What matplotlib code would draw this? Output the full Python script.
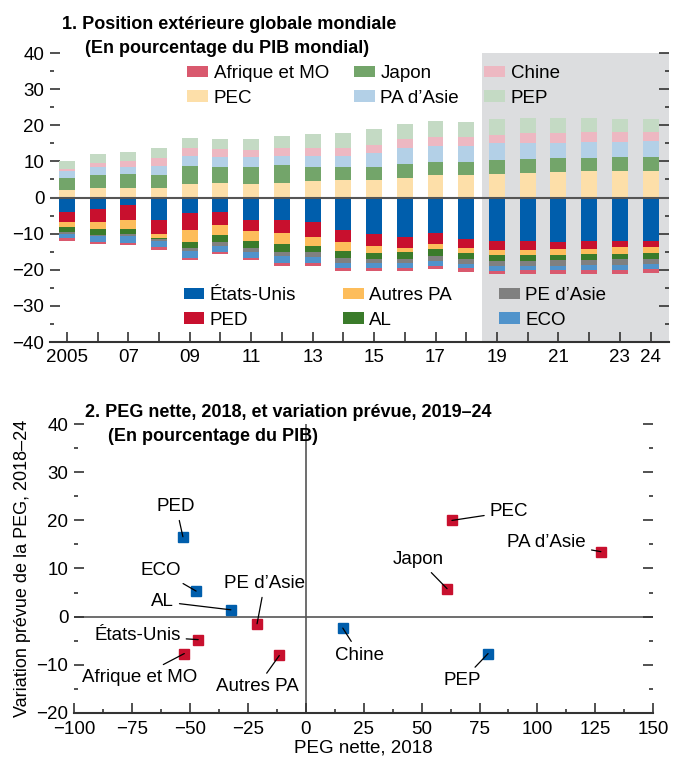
import numpy as np
import matplotlib.pyplot as plt

plt.rcParams['font.family'] = ['Liberation Sans', 'DejaVu Sans']

years = np.arange(2005, 2025)

# positive side of the global position (% of world GDP)
pec = [2.0, 2.6, 2.6, 2.6, 3.7, 4.0, 3.7, 4.0, 4.5, 4.8, 4.8, 5.3, 6.2, 6.2, 6.4, 6.7, 7.0, 7.3, 7.3, 7.3]
japon = [3.3, 3.6, 3.8, 3.6, 4.9, 4.4, 4.7, 4.9, 3.9, 3.6, 3.6, 3.9, 3.5, 3.5, 3.9, 3.9, 3.9, 3.6, 3.8, 3.8]
pa_asie = [2.1, 2.2, 2.0, 2.4, 2.8, 2.8, 2.8, 2.5, 3.0, 3.0, 3.9, 4.4, 4.5, 4.5, 4.7, 4.6, 4.3, 4.6, 4.4, 4.6]
chine = [0.5, 1.2, 1.6, 2.3, 2.2, 2.2, 1.9, 2.2, 2.2, 2.2, 2.2, 2.5, 2.6, 2.6, 2.4, 2.7, 2.7, 2.7, 2.7, 2.5]
pep = [2.1, 2.4, 2.5, 2.7, 2.8, 2.7, 3.0, 3.5, 4.0, 4.3, 4.5, 4.2, 4.3, 4.1, 4.4, 4.1, 4.1, 3.8, 3.6, 3.6]

# negative side
etats_unis = [-3.9, -3.3, -2.2, -6.3, -4.4, -3.9, -6.1, -6.1, -6.9, -8.9, -10.0, -10.8, -9.7, -11.4, -11.9, -11.9, -12.2, -11.9, -11.9, -11.9]
ped = [-2.8, -3.6, -3.9, -3.7, -4.5, -3.6, -3.3, -3.6, -3.9, -3.3, -3.3, -3.1, -3.1, -2.5, -2.5, -2.5, -2.0, -2.3, -1.7, -1.7]
autres_pa = [-1.4, -1.9, -2.5, -1.3, -3.3, -2.8, -2.5, -3.1, -2.5, -2.5, -2.0, -1.1, -1.4, -1.4, -1.4, -1.4, -1.6, -1.3, -1.9, -1.7]
al = [-1.5, -1.5, -1.6, -0.3, -1.7, -1.9, -2.0, -2.2, -1.7, -2.0, -1.6, -1.9, -1.9, -1.6, -1.7, -1.7, -1.4, -1.7, -1.4, -1.6]
pe_asie = [-0.6, -0.4, -0.5, -0.5, -0.8, -1.1, -1.1, -1.1, -1.4, -1.4, -1.2, -1.2, -1.4, -1.4, -1.4, -1.4, -1.7, -1.4, -1.7, -1.4]
eco = [-1.1, -1.7, -2.0, -1.7, -2.0, -1.9, -1.7, -2.0, -1.7, -1.3, -1.3, -1.3, -1.4, -1.1, -1.4, -1.1, -1.1, -1.4, -1.4, -1.4]
afrique_mo = [-0.6, -0.6, -0.5, -0.6, -0.5, -0.5, -0.5, -0.8, -0.8, -0.9, -0.9, -0.9, -0.8, -1.2, -0.8, -1.1, -1.1, -1.1, -1.1, -1.1]

year_labels = {2005: "2005", 2007: "07", 2009: "09", 2011: "11", 2013: "13", 2015: "15",
               2017: "17", 2019: "19", 2021: "21", 2023: "23", 2024: "24"}

# scatter: net IIP 2018 vs projected change 2018-24
groups = ["PED", "ECO", "AL", "PE d\u2019Asie", "États-Unis", "Afrique et MO", "Autres PA",
          "Chine", "PEP", "PEC", "PA d\u2019Asie", "Japon"]
peg_2018 = [-53.0, -47.3, -32.3, -21.0, -46.4, -52.4, -11.4, 16.0, 78.7, 63.1, 127.4, 61.0]
variation = [16.6, 5.3, 1.4, -1.5, -4.8, -7.7, -8.1, -2.4, -7.7, 20.0, 13.5, 5.8]
debtor = [False, False, False, True, True, True, True, False, False, True, True, True]

# where each scatter label sits
label_pos = {
    "PED": (-55.9, 22.9), "ECO": (-62.4, 9.5), "AL": (-61.8, 3.1),
    "PE d\u2019Asie": (-17.7, 6.9), "États-Unis": (-72.6, -4.0),
    "Afrique et MO": (-71.8, -12.6), "Autres PA": (-21.0, -14.6),
    "Chine": (23.4, -8.0), "PEP": (67.6, -13.3), "PEC": (87.7, 21.8),
    "PA d\u2019Asie": (104.0, 15.5), "Japon": (48.6, 11.9),
}

BLUE = "#005eac"
RED = "#c8102e"
FS = 13.5
TFS = 13

fig = plt.figure(figsize=(6.82, 7.66), dpi=100)

# ---------------- panel 1 ----------------
ax1 = fig.add_axes([0.0733, 0.5535, 0.9076, 0.3773])
ax1.axvspan(2018.5, 2024.6, color="#dcdddf", zorder=0, lw=0)

width = 0.52
pos_series = [("PEC", pec, "#fddfa9"), ("Japon", japon, "#73a56a"),
              ("PA d\u2019Asie", pa_asie, "#b3d0e7"), ("Chine", chine, "#edb8c2"),
              ("PEP", pep, "#c4dac4")]
neg_series = [("États-Unis", etats_unis, BLUE), ("PED", ped, RED),
              ("Autres PA", autres_pa, "#fdbd5b"), ("AL", al, "#3a7b2a"),
              ("PE d\u2019Asie", pe_asie, "#808080"), ("ECO", eco, "#5093cb"),
              ("Afrique et MO", afrique_mo, "#d9596e")]

handles = {}
bottom = np.zeros(len(years))
for name, vals, col in pos_series:
    handles[name] = ax1.bar(years, vals, width, bottom=bottom, color=col, zorder=2)
    bottom += np.array(vals)
bottom = np.zeros(len(years))
for name, vals, col in neg_series:
    handles[name] = ax1.bar(years, vals, width, bottom=bottom, color=col, zorder=2)
    bottom += np.array(vals)

ax1.axhline(0, color="#555555", lw=1.5, zorder=3)
ax1.set_xlim(2004.45, 2024.6)
ax1.set_ylim(-40, 40)
ax1.set_yticks(np.arange(-40, 41, 10))
ax1.set_yticks(np.arange(-35, 40, 10), minor=True)
ax1.set_yticklabels([f"{v}".replace("-", "\u2212") for v in range(-40, 41, 10)])
ax1.set_xticks(years)
ax1.set_xticklabels([year_labels.get(y, "") for y in years])
for s in ["top", "left", "right"]:
    ax1.spines[s].set_visible(False)
ax1.spines["bottom"].set_color("#333333")
ax1.spines["bottom"].set_linewidth(1.5)
ax1.tick_params(axis="y", which="both", direction="in", left=True, right=True,
                labelsize=FS, color="#333333", pad=4)
ax1.tick_params(axis="y", which="major", length=7, width=1.2)
ax1.tick_params(axis="y", which="minor", length=3, width=1.2)
ax1.tick_params(axis="x", direction="in", length=7, width=1.2, labelsize=FS,
                color="#333333", pad=5)

top_order = ["Afrique et MO", "PEC", "Japon", "PA d\u2019Asie", "Chine", "PEP"]
bot_order = ["États-Unis", "PED", "Autres PA", "AL", "PE d\u2019Asie", "ECO"]
leg_kw = dict(ncol=3, frameon=False, fontsize=FS, borderpad=0, borderaxespad=0,
              handlelength=1.1, handleheight=0.6, handletextpad=0.3,
              labelspacing=0.42, loc="upper left")
leg1 = ax1.legend([handles[n] for n in top_order], top_order,
                  bbox_to_anchor=(0.222, 0.958), columnspacing=1.35, **leg_kw)
ax1.add_artist(leg1)
ax1.legend([handles[n] for n in bot_order], bot_order,
           bbox_to_anchor=(0.216, 0.19), columnspacing=2.5, **leg_kw)

fig.text(0.091, 0.979, "1. Position extérieure globale mondiale", fontsize=TFS,
         fontweight="bold", va="top")
fig.text(0.124, 0.948, "(En pourcentage du PIB mondial)", fontsize=TFS,
         fontweight="bold", va="top")

# ---------------- panel 2 ----------------
ax2 = fig.add_axes([0.1085, 0.0696, 0.8494, 0.3765])
ax2.axhline(0, color="#555555", lw=1.2, zorder=1)
ax2.axvline(0, color="#555555", lw=1.2, zorder=1)
for name, x, y, d in zip(groups, peg_2018, variation, debtor):
    ax2.plot(x, y, marker="s", ms=7.5, color=RED if d else BLUE, ls="none", zorder=3)
    ax2.annotate(name, xy=(x, y), xytext=label_pos[name], ha="center", va="center",
                 fontsize=FS,
                 arrowprops=dict(arrowstyle="-", color="black", lw=0.9,
                                 shrinkA=2, shrinkB=0))

ax2.set_xlim(-100, 150)
ax2.set_ylim(-20, 40)
ax2.set_xticks(np.arange(-100, 151, 25))
ax2.set_xticks(np.arange(-87.5, 150, 25), minor=True)
ax2.set_xticklabels([f"{v}".replace("-", "\u2212") for v in range(-100, 151, 25)])
ax2.set_yticks(np.arange(-20, 41, 10))
ax2.set_yticks(np.arange(-15, 40, 10), minor=True)
ax2.set_yticklabels([f"{v}".replace("-", "\u2212") for v in range(-20, 41, 10)])
for s in ["top", "left", "right"]:
    ax2.spines[s].set_visible(False)
ax2.spines["bottom"].set_color("#333333")
ax2.spines["bottom"].set_linewidth(1.5)
ax2.tick_params(axis="both", which="both", direction="in", labelsize=FS,
                color="#333333")
ax2.tick_params(axis="y", which="both", left=True, right=True, pad=4)
ax2.tick_params(axis="x", which="both", pad=6)
ax2.tick_params(which="major", length=7, width=1.2)
ax2.tick_params(which="minor", length=3, width=1.2)
ax2.set_xlabel("PEG nette, 2018", fontsize=FS, labelpad=1)
ax2.set_ylabel("Variation prévue de la PEG, 2018\u201324", fontsize=TFS, labelpad=4)

fig.text(0.125, 0.472, "2. PEG nette, 2018, et variation prévue, 2019\u201324", fontsize=TFS,
         fontweight="bold", va="top")
fig.text(0.158, 0.441, "(En pourcentage du PIB)", fontsize=TFS,
         fontweight="bold", va="top")

fig.savefig("out.png", dpi=100)
